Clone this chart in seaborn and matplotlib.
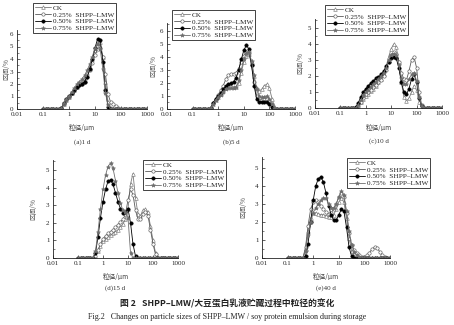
import matplotlib
matplotlib.use('Agg')
import matplotlib.pyplot as plt
import seaborn as sns
from matplotlib.ticker import FixedLocator, MultipleLocator

sns.set_theme(style='white')
plt.rcParams['font.family'] = ['Liberation Serif', 'Noto Sans CJK SC', 'DejaVu Sans']
plt.rcParams['axes.unicode_minus'] = False

# particle size bins (um)
sizes = [0.1, 0.126, 0.158, 0.2, 0.251, 0.316, 0.398, 0.501, 0.631, 0.794,
         1.0, 1.26, 1.58, 2.0, 2.51, 3.16, 3.98, 5.01, 6.31, 7.94,
         10.0, 12.6, 15.8, 20.0, 25.1, 31.6, 39.8, 50.1, 63.1, 79.4,
         100.0, 126.0, 158.0, 200.0, 251.0, 316.0, 398.0, 501.0, 631.0, 794.0, 1000.0]

labels = ["CK", "0.25%  SHPP–LMW", "0.50%  SHPP–LMW", "0.75%  SHPP–LMW"]

# (a) 1 d
a_ck  = [0, 0, 0, 0, 0, 0, 0, 0.05, 0.4, 0.75, 1.0, 1.25, 1.5, 1.8, 2.0, 2.2, 2.5, 2.9, 3.4, 4.0,
         4.7, 5.3, 5.4, 4.2, 2.2, 0.6, 0.1, 0, 0, 0, 0, 0, 0, 0, 0, 0, 0, 0, 0, 0, 0]
a_025 = [0, 0, 0, 0, 0, 0, 0, 0.05, 0.4, 0.75, 1.0, 1.25, 1.5, 1.75, 1.9, 2.0, 2.2, 2.6, 3.1, 3.7,
         4.3, 4.8, 4.9, 4.2, 2.8, 1.2, 0.55, 0.4, 0.25, 0.1, 0, 0, 0, 0, 0, 0, 0, 0, 0, 0, 0]
a_050 = [0, 0, 0, 0, 0, 0, 0, 0.05, 0.45, 0.8, 1.05, 1.3, 1.5, 1.8, 1.9, 2.0, 2.2, 2.6, 3.2, 4.0,
         4.9, 5.6, 5.5, 3.8, 1.5, 0.2, 0, 0, 0, 0, 0, 0, 0, 0, 0, 0, 0, 0, 0, 0, 0]
a_075 = [0, 0, 0, 0, 0, 0, 0, 0.05, 0.45, 0.8, 1.05, 1.35, 1.65, 2.0, 2.2, 2.4, 2.7, 3.1, 3.6, 4.2,
         4.9, 5.2, 4.8, 3.2, 1.3, 0.3, 0, 0, 0, 0, 0, 0, 0, 0, 0, 0, 0, 0, 0, 0, 0]

# (b) 5 d
b_ck  = [0, 0, 0, 0, 0, 0, 0, 0.05, 0.4, 0.7, 0.9, 1.15, 1.4, 1.6, 1.8, 1.8, 1.7, 1.7, 2.0, 2.8,
         3.6, 4.1, 4.2, 3.6, 2.5, 1.6, 1.4, 1.5, 1.8, 1.9, 1.6, 0.8, 0.2, 0, 0, 0, 0, 0, 0, 0, 0]
b_025 = [0, 0, 0, 0, 0, 0, 0, 0.05, 0.45, 0.8, 1.1, 1.45, 1.8, 2.3, 2.6, 2.7, 2.7, 2.8, 3.1, 3.6,
         4.1, 4.4, 4.3, 3.4, 2.1, 1.0, 0.7, 0.7, 0.8, 0.8, 0.6, 0.3, 0.1, 0, 0, 0, 0, 0, 0, 0, 0]
b_050 = [0, 0, 0, 0, 0, 0, 0, 0.05, 0.45, 0.8, 1.0, 1.25, 1.5, 1.8, 1.9, 2.0, 2.1, 2.4, 3.0, 3.8,
         4.5, 4.9, 4.6, 3.4, 1.8, 0.8, 0.55, 0.55, 0.55, 0.5, 0.35, 0.15, 0, 0, 0, 0, 0, 0, 0, 0, 0]
b_075 = [0, 0, 0, 0, 0, 0, 0, 0.05, 0.4, 0.7, 0.9, 1.1, 1.3, 1.5, 1.6, 1.6, 1.6, 1.7, 2.2, 3.0,
         3.8, 4.3, 4.4, 3.7, 2.6, 1.5, 1.0, 0.9, 0.95, 1.0, 0.8, 0.4, 0.1, 0, 0, 0, 0, 0, 0, 0, 0]

# (c) 10 d
c_ck  = [0, 0, 0, 0, 0, 0, 0, 0.1, 0.35, 0.55, 0.75, 0.9, 1.05, 1.2, 1.4, 1.6, 1.8, 2.1, 2.6, 3.2,
         3.7, 4.0, 3.8, 2.9, 1.6, 0.7, 0.45, 0.6, 1.0, 1.4, 1.1, 0.4, 0, 0, 0, 0, 0, 0, 0, 0, 0]
c_025 = [0, 0, 0, 0, 0, 0, 0, 0.1, 0.4, 0.65, 0.85, 1.0, 1.15, 1.3, 1.45, 1.6, 1.75, 2.0, 2.4, 2.9,
         3.3, 3.5, 3.4, 2.9, 2.2, 1.8, 1.75, 2.3, 3.0, 3.2, 2.5, 1.0, 0.2, 0, 0, 0, 0, 0, 0, 0, 0]
c_050 = [0, 0, 0, 0, 0, 0, 0.05, 0.3, 0.7, 1.0, 1.2, 1.4, 1.55, 1.7, 1.85, 1.95, 2.1, 2.3, 2.6, 2.9,
         3.1, 3.2, 3.1, 2.5, 1.6, 1.0, 0.85, 1.2, 1.8, 2.1, 1.6, 0.6, 0.1, 0, 0, 0, 0, 0, 0, 0, 0]
c_075 = [0, 0, 0, 0, 0, 0, 0, 0.2, 0.5, 0.8, 1.0, 1.15, 1.3, 1.5, 1.65, 1.8, 2.0, 2.2, 2.5, 3.0,
         3.3, 3.4, 3.3, 2.7, 1.9, 1.5, 1.5, 1.8, 2.1, 2.2, 1.7, 0.7, 0.1, 0, 0, 0, 0, 0, 0, 0, 0]

# (d) 15 d
d_ck  = [0, 0, 0, 0, 0, 0, 0, 0.1, 0.4, 0.7, 0.95, 1.1, 1.2, 1.3, 1.4, 1.5, 1.6, 1.75, 1.95, 2.2,
         2.8, 4.2, 4.8, 3.4, 2.5, 2.4, 2.7, 2.8, 2.6, 1.8, 1.0, 0.3, 0, 0, 0, 0, 0, 0, 0, 0, 0]
d_025 = [0, 0, 0, 0, 0, 0, 0, 0.1, 0.45, 0.8, 1.1, 1.25, 1.4, 1.5, 1.6, 1.75, 1.9, 2.05, 2.2, 2.5,
         3.3, 3.9, 3.6, 2.7, 2.2, 2.2, 2.5, 2.6, 2.4, 1.6, 0.8, 0.2, 0, 0, 0, 0, 0, 0, 0, 0, 0]
d_050 = [0, 0, 0, 0, 0, 0, 0, 0.3, 1.2, 2.3, 3.2, 3.9, 4.35, 4.45, 4.2, 3.7, 3.2, 2.8, 2.55, 2.6,
         2.8, 2.0, 0.8, 0.1, 0, 0, 0, 0, 0, 0, 0, 0, 0, 0, 0, 0, 0, 0, 0, 0, 0]
d_075 = [0, 0, 0, 0, 0, 0, 0, 0.4, 1.5, 2.8, 3.9, 4.7, 5.2, 5.4, 5.1, 4.4, 3.7, 3.1, 2.7, 2.6,
         2.3, 0.3, 0, 0, 0, 0, 0, 0, 0, 0, 0, 0, 0, 0, 0, 0, 0, 0, 0, 0, 0]

# (e) 40 d
e_ck  = [0, 0, 0, 0, 0, 0, 0, 0.5, 1.5, 2.2, 2.5, 2.5, 2.45, 2.4, 2.4, 2.35, 2.3, 2.3, 2.4, 2.7,
         3.1, 3.3, 3.1, 2.2, 1.1, 0.4, 0.1, 0, 0, 0, 0, 0, 0, 0, 0, 0, 0, 0, 0, 0, 0]
e_025 = [0, 0, 0, 0, 0, 0, 0, 0.6, 1.8, 2.7, 3.1, 3.2, 3.1, 2.9, 2.7, 2.55, 2.45, 2.5, 2.7, 3.0,
         3.4, 3.6, 3.4, 2.5, 1.4, 0.7, 0.45, 0.3, 0.15, 0.05, 0.05, 0.15, 0.3, 0.5, 0.6, 0.55, 0.35, 0.15, 0.05, 0, 0]
e_050 = [0, 0, 0, 0, 0, 0, 0, 0.1, 0.8, 2.0, 3.2, 4.0, 4.4, 4.5, 4.2, 3.6, 2.9, 2.4, 2.1, 2.1,
         2.4, 2.7, 2.6, 1.7, 0.6, 0.1, 0, 0, 0, 0, 0, 0, 0, 0, 0, 0, 0, 0, 0, 0, 0]
e_075 = [0, 0, 0, 0, 0, 0, 0, 0.4, 1.3, 2.0, 2.5, 2.8, 3.0, 3.2, 3.35, 3.3, 3.0, 2.8, 2.8, 3.0,
         3.4, 3.7, 3.5, 2.6, 1.5, 0.7, 0.35, 0.15, 0.05, 0, 0, 0, 0, 0, 0, 0, 0, 0, 0, 0, 0]

xtick_vals = [0.01, 0.1, 1, 10, 100, 1000]
xtick_labels = ["0.01", "0.1", "1", "10", "100", "1000"]

W, H = 454, 325
fig = plt.figure(figsize=(W / 100, H / 100), dpi=100)
fig.patch.set_facecolor('white')

styles = [
    dict(marker='^', markerfacecolor='white', color='#7a7a7a', markersize=2.6),
    dict(marker='o', markerfacecolor='white', color='#5a5a5a', markersize=2.4),
    dict(marker='o', markerfacecolor='black', color='#000000', markersize=2.4),
    dict(marker='*', markerfacecolor='#6e6e6e', color='#6e6e6e', markersize=3.0),
]

panels = [
    ([a_ck, a_025, a_050, a_075], (17, 147, 109, 30), 6.32, 6, (33, 3), 6, "(a)1 d", 128, 142),
    ([b_ck, b_025, b_050, b_075], (167, 295, 109, 23), 6.6, 6, (172, 10), 153, "(b)5 d", 128, 142),
    ([c_ck, c_025, c_050, c_075], (315, 442, 108, 19), 5.56, 5, (325, 5), 300, "(c)10 d", 128, 141),
    ([d_ck, d_025, d_050, d_075], (53, 178, 258, 160), 5.57, 5, (143, 160), 33, "(d)15 d", 277, 288),
    ([e_ck, e_025, e_050, e_075], (262, 390, 258, 157), 5.6, 5, (347, 158), 243, "(e)40 d", 277, 288),
]

cjk = ['Noto Sans CJK SC', 'DejaVu Sans']

for series, (l, r, b, t), ymax, ytop, (lx, ly), ylx, cap, xly, cy in panels:
    ax = fig.add_axes([l / W, 1 - b / H, (r - l) / W, (b - t) / H])
    ax.set_facecolor('white')
    for ys, lab, st in zip(series, labels, styles):
        sns.lineplot(x=sizes, y=ys, ax=ax, label=lab, linewidth=0.6,
                     markeredgewidth=0.45, markeredgecolor=st['color'], **st)
    ax.set_xscale('log')
    ax.set_xlim(0.01, 1000)
    ax.set_ylim(0, ymax)
    ax.xaxis.set_major_locator(FixedLocator(xtick_vals))
    ax.set_xticklabels(xtick_labels)
    ax.xaxis.set_minor_locator(FixedLocator([]))
    ax.yaxis.set_major_locator(FixedLocator(list(range(0, ytop + 1))))
    ax.yaxis.set_minor_locator(MultipleLocator(0.5))
    for s in ['top', 'right']:
        ax.spines[s].set_visible(False)
    for s in ['left', 'bottom']:
        ax.spines[s].set_color('#222222')
        ax.spines[s].set_linewidth(0.6)
    ax.tick_params(axis='both', which='major', direction='in', length=2, width=0.5,
                   labelsize=5, colors='#222222', pad=2.5, left=True, bottom=True)
    ax.tick_params(axis='y', which='minor', direction='in', length=1.3, width=0.4,
                   colors='#222222', left=True)
    ax.set_xlabel('')
    ax.set_ylabel('')
    leg = ax.legend(loc='upper left', bbox_to_anchor=(lx / W, 1 - ly / H),
                    bbox_transform=fig.transFigure, borderaxespad=0, fontsize=5.2,
                    frameon=True, fancybox=False, edgecolor='#222222', framealpha=1,
                    borderpad=0.25, labelspacing=0.1, handlelength=2.2,
                    handletextpad=0.35)
    leg.get_frame().set_linewidth(0.6)
    for txt in leg.get_texts():
        txt.set_color('#222222')
    xc = (l + r) / 2 / W
    fig.text(ylx / W, 1 - (b + t) / 2 / H, "区间/%", rotation=90, ha='center', va='center',
             fontsize=4.8, color='#555555', family=cjk)
    fig.text(xc, 1 - xly / H, "粒径/μm", ha='center', va='center', fontsize=4.8,
             color='#444444', family=cjk)
    fig.text(xc, 1 - cy / H, cap, ha='center', va='center', fontsize=5, color='#333333')

fig.text(0.5, 1 - 304 / H, "图 2   SHPP–LMW/大豆蛋白乳液贮藏过程中粒径的变化", ha='center',
         va='center', fontsize=6.3, fontweight='bold', color='#222222', family=cjk)
fig.text(0.5, 1 - 317 / H,
         "Fig.2   Changes on particle sizes of SHPP–LMW / soy protein emulsion during storage",
         ha='center', va='center', fontsize=5.8, color='#222222')

fig.savefig('out.png', dpi=100, facecolor='white')
